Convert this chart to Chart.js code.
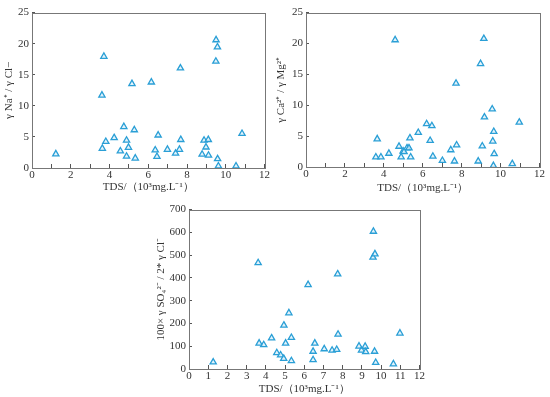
<!DOCTYPE html>
<html><head><meta charset="utf-8">
<script src="https://cdn.jsdelivr.net/npm/chart.js@4"></script>
<style>
body{margin:0;background:#fff;width:550px;height:397px;position:relative;overflow:hidden}
canvas{position:absolute}
</style></head><body>
<canvas id="c1" width="275" height="197" style="left:0;top:0"></canvas>
<canvas id="c2" width="275" height="197" style="left:275px;top:0"></canvas>
<canvas id="c3" width="300" height="200" style="left:130px;top:197px"></canvas>
<script>
// ---- data ----
const tdsA = [1.23,3.71,3.61,3.63,3.81,4.24,4.74,4.56,4.88,4.88,4.98,5.16,5.28,5.33,6.16,6.36,6.45,6.51,6.99,7.41,7.61,7.66,7.68,8.78,8.88,8.98,9.10,9.11,9.50,9.57,9.49,9.58,9.62,10.53,10.84];
const naCl = [2.25,17.94,11.7,3.14,4.24,4.86,6.64,2.72,4.45,1.88,3.3,13.55,6.12,1.57,13.8,2.88,1.83,5.28,2.98,2.35,2.98,16.06,4.55,2.2,4.45,3.35,4.55,2.04,20.6,19.46,17.15,1.46,0.31,0.31,5.54];

const tdsB = [4.58,9.14,8.97,7.71,9.57,9.17,10.96,6.20,6.47,5.77,9.65,3.66,5.34,6.38,9.60,4.78,5.19,5.29,4.99,5.04,7.74,7.44,9.06,4.26,9.67,3.59,3.85,4.89,5.38,6.52,7.01,7.63,8.85,9.63,10.60];
const caMg = [20.57,20.78,16.72,13.54,9.38,8.07,7.24,6.98,6.67,5.57,5.73,4.53,4.69,4.27,4.17,3.33,3.07,3.07,2.55,2.45,3.54,2.76,3.39,2.19,2.14,1.61,1.61,1.61,1.61,1.72,1.04,0.94,0.94,0.21,0.52];

const tdsC = [1.26,3.60,3.65,3.89,4.30,4.57,4.77,4.93,4.94,5.03,5.20,5.33,5.33,6.20,6.46,6.46,6.55,7.04,7.45,7.69,7.74,7.76,8.85,8.98,9.17,9.20,9.60,9.58,9.68,9.66,9.72,10.64,10.98];
const so4Cl = [30,466,113,106,136,71,61,46,192,113,246,138,36,370,77,40,113,88,82,85,417,152,100,82,99,75,604,490,505,77,28,22,157];

const xTitle = 'TDS/\uFF0810\u00B3mg.L\u207B\u00B9\uFF09';
const yTitle1 = '\u03B3 Na\u207A / \u03B3 Cl\u2212';
const yTitle2 = '\u03B3 Ca\u00B2\u207A / \u03B3 Mg\u00B2\u207A';
const yTitle3 = '100\u00D7 \u03B3 SO\u2084\u00B2\u207B / 2* \u03B3 Cl\u207B';

const FONT = 'Liberation Serif, Times New Roman, serif';
const TXT = '#333';
const AX = '#555';

const frame = {
  id:'frame',
  afterDraw(chart){
    const a = chart.chartArea, c = chart.ctx;
    c.save(); c.strokeStyle = '#777'; c.lineWidth = 1;
    c.strokeRect(Math.round(a.left)+0.5, Math.round(a.top)+0.5, Math.round(a.right-a.left), Math.round(a.bottom-a.top));
    c.restore();
  }
};

function makeChart(id, xs, ys, cfg){
  const pts = xs.map((x,i)=>({x:x, y:ys[i]}));
  return new Chart(document.getElementById(id), {
    type:'scatter',
    data:{datasets:[{data:pts, pointStyle:'triangle', pointRadius:3.6, borderWidth:1.3,
      borderColor:'#2a9fd6', backgroundColor:'rgba(215,238,250,0.7)'}]},
    plugins:[frame],
    options:{
      responsive:false, animation:false,
      layout:{padding:{left:cfg.left, top:cfg.top, right:cfg.right, bottom:0}},
      plugins:{legend:{display:false}, tooltip:{enabled:false}},
      scales:{
        x:{type:'linear', min:0, max:12,
          afterFit(s){ s.height = cfg.xh; },
          ticks:{stepSize:1, padding:cfg.xpad, color:TXT, font:{family:FONT,size:11},
            callback:(v)=> (cfg.xEvery===2 && v%2!==0) ? '' : String(v)},
          grid:{drawOnChartArea:false, drawTicks:true, tickLength:-4, color:AX},
          border:{display:true, color:AX, width:1},
          title:{display:true, text:xTitle, color:TXT, font:{family:FONT,size:11}, padding:{top:0,bottom:cfg.xtp}}
        },
        y:{type:'linear', min:0, max:cfg.ymax,
          afterFit(s){ s.width = cfg.yw; },
          ticks:{stepSize:cfg.ystep, padding:cfg.ypad, color:TXT, font:{family:FONT,size:11}},
          grid:{drawOnChartArea:false, drawTicks:true, tickLength:-3, color:AX},
          border:{display:true, color:AX, width:1},
          title:{display:true, text:cfg.ytitle, color:TXT, font:{family:FONT,size:11}, padding:{top:cfg.ytp,bottom:0}}
        }
      }
    }
  });
}

makeChart('c1', tdsA, naCl, {left:0, top:8, right:6, xh:29, yw:32, ymax:25, ystep:5, xEvery:2, xpad:5, ypad:6, xtp:3, ytp:3, ytitle:yTitle1});
makeChart('c2', tdsB, caMg, {left:0, top:7, right:9, xh:30, yw:31, ymax:25, ystep:5, xEvery:2, xpad:5, ypad:6, xtp:2, ytp:0, ytitle:yTitle2});
makeChart('c3', tdsC, so4Cl, {left:25, top:5, right:6, xh:28, yw:34, ymax:700, ystep:100, xEvery:1, xpad:5, ypad:6, xtp:1, ytp:0, ytitle:yTitle3});
</script>
</body></html>
